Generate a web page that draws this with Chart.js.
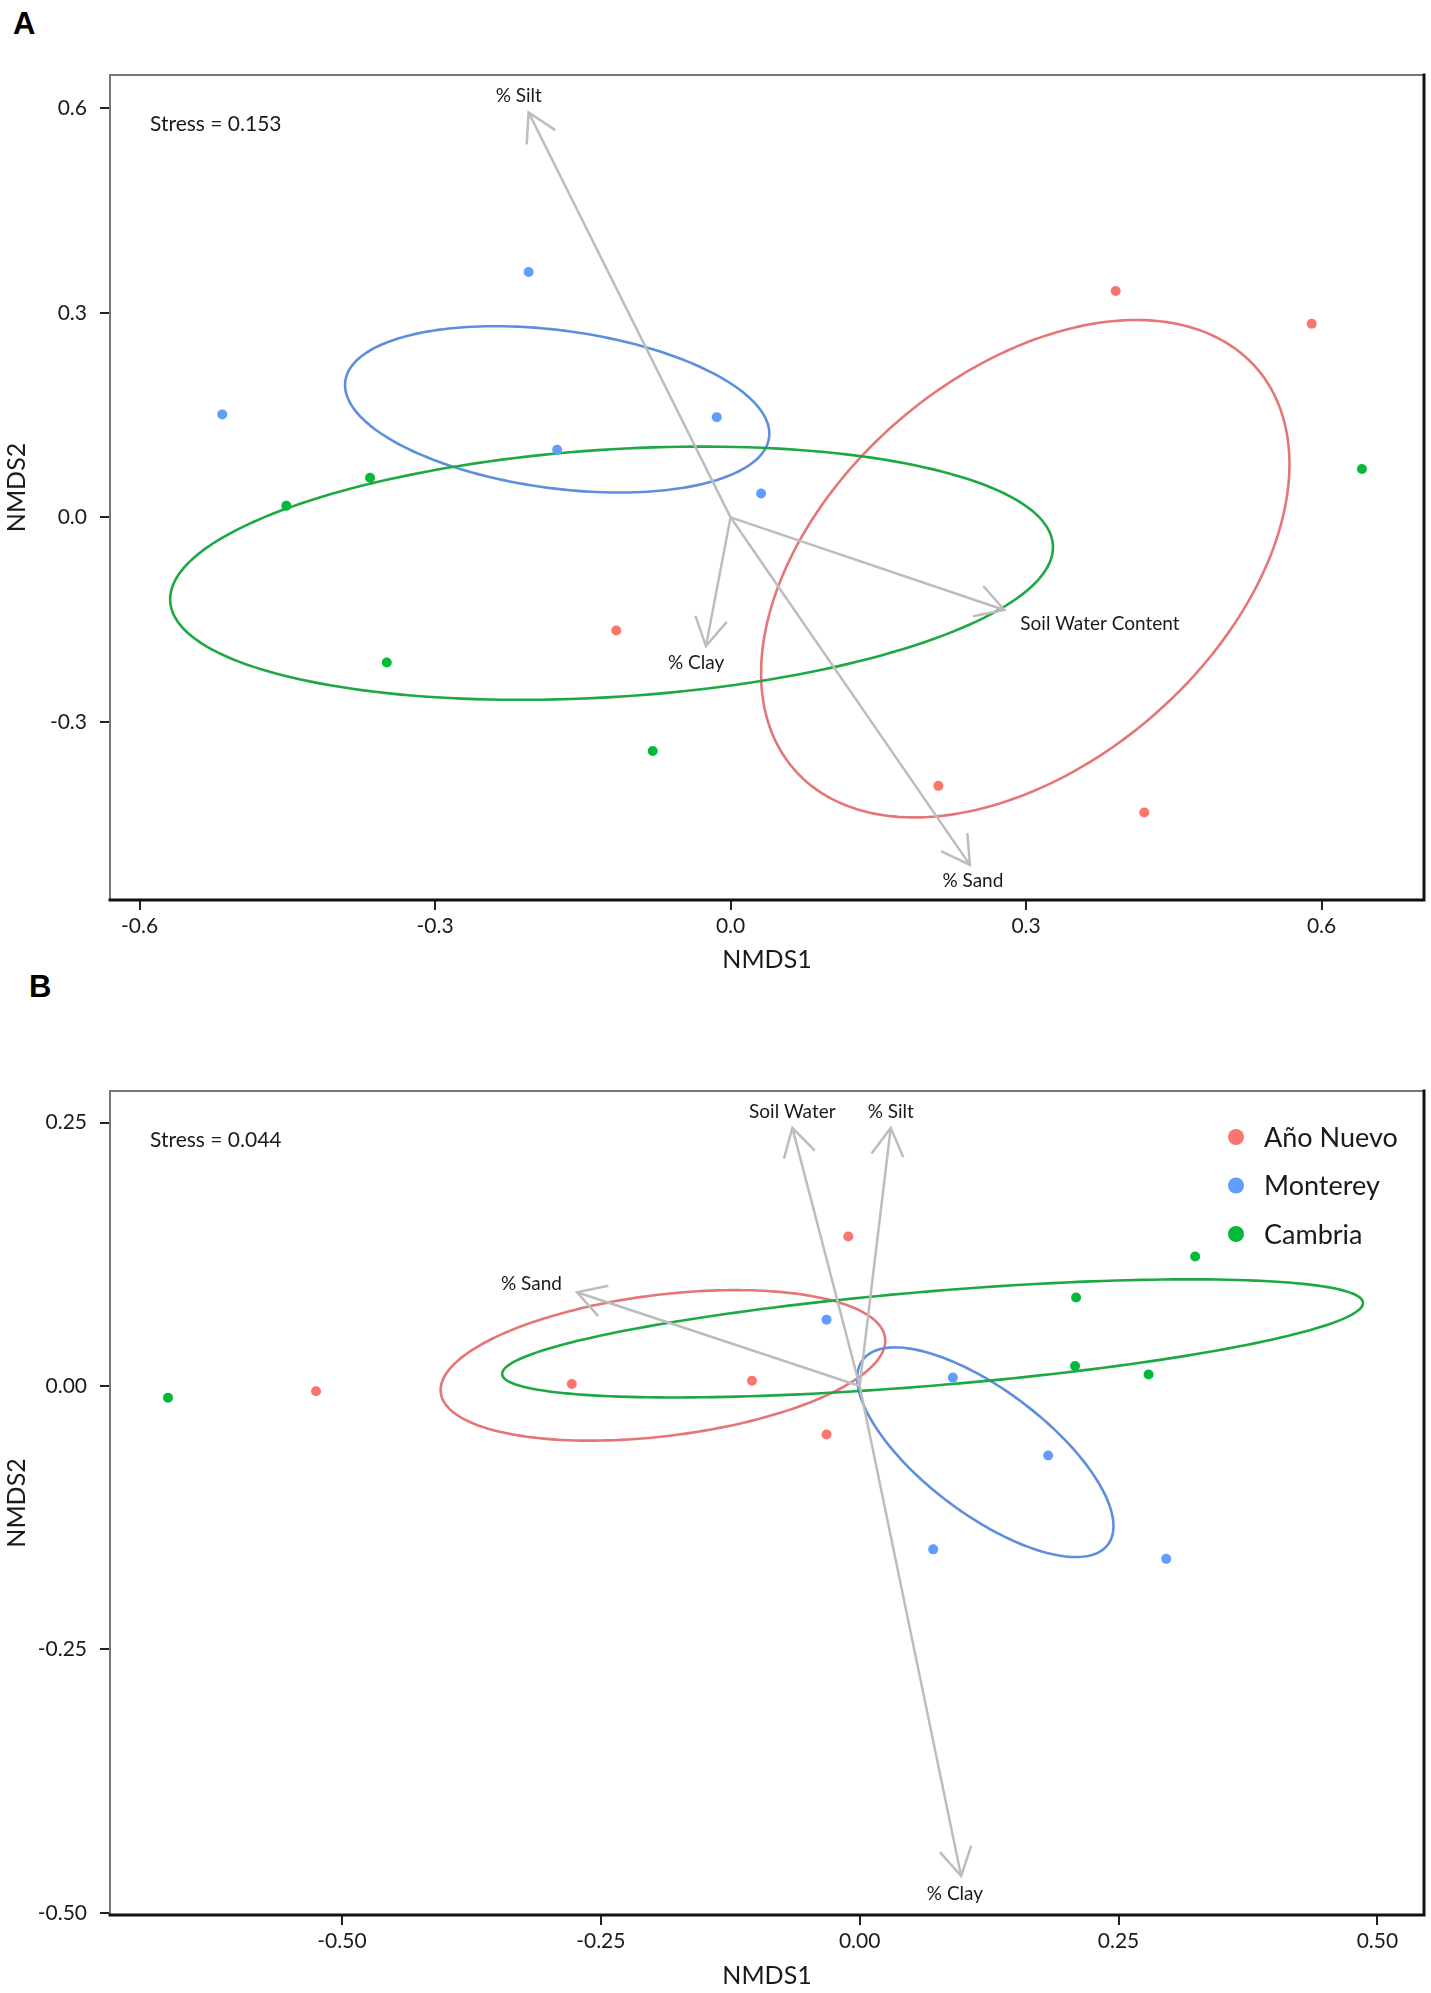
<!DOCTYPE html>
<html>
<head>
<meta charset="utf-8">
<title>NMDS ordination</title>
<script src="https://cdn.jsdelivr.net/npm/chart.js@4.4.1/dist/chart.umd.min.js"></script>
<style>
    body { margin: 0; background: #fff; }
    #page { position: relative; width: 1431px; height: 1993px; }
    .panel { position: absolute; left: 0; width: 1431px; }
    #panelA { top: 0; height: 985px; }
    #panelB { top: 985px; height: 1008px; }
    .tag { position: absolute; font: bold 31px "Liberation Sans", Arial, sans-serif; color: #000; }
</style>
</head>
<body>
<div id="page">
    <div class="tag" style="left:13px;top:6px;">A</div>
    <div class="tag" style="left:29px;top:969px;">B</div>
    <div class="panel" id="panelA"><canvas id="grafico-a"></canvas></div>
    <div class="panel" id="panelB"><canvas id="grafico-b"></canvas></div>
</div>
<script>
const groupNames = ['Año Nuevo', 'Monterey', 'Cambria'];
const groupColors = ['#F8766D', '#619CFF', '#00BA38'];
const ellipseColors = ['#E57676', '#5D8FDD', '#1DA844'];

// panel A - site scores
const aAnoNuevoX = [0.391, 0.590, -0.116, 0.211, 0.420];
const aAnoNuevoY = [0.332, 0.284, -0.166, -0.394, -0.433];
const aMontereyX = [-0.205, -0.516, -0.014, -0.176, 0.031];
const aMontereyY = [0.360, 0.151, 0.147, 0.099, 0.035];
const aCambriaX = [-0.366, -0.451, -0.349, -0.079, 0.641];
const aCambriaY = [0.058, 0.017, -0.213, -0.343, 0.071];

// panel A - environmental vectors
const aVectorNames = ['% Silt', '% Clay', 'Soil Water Content', '% Sand'];
const aVectorX = [-0.205, -0.025, 0.278, 0.243];
const aVectorY = [0.594, -0.189, -0.136, -0.510];
const aLabelX = [-0.215, -0.035, 0.375, 0.246];
const aLabelY = [0.618, -0.213, -0.157, -0.534];

const aTicksX = [-0.6, -0.3, 0, 0.3, 0.6];
const aTicksY = [-0.3, 0, 0.3, 0.6];
const aStress = 'Stress = 0.153';

// panel B - site scores
const bAnoNuevoX = [-0.525, -0.278, -0.104, -0.011, -0.032];
const bAnoNuevoY = [-0.005, 0.002, 0.005, 0.142, -0.046];
const bMontereyX = [-0.032, 0.090, 0.182, 0.071, 0.296];
const bMontereyY = [0.063, 0.008, -0.066, -0.155, -0.164];
const bCambriaX = [-0.668, 0.209, 0.324, 0.208, 0.279];
const bCambriaY = [-0.011, 0.084, 0.123, 0.019, 0.011];

// panel B - environmental vectors
const bVectorNames = ['Soil Water', '% Silt', '% Sand', '% Clay'];
const bVectorX = [-0.065, 0.030, -0.273, 0.098];
const bVectorY = [0.245, 0.245, 0.089, -0.465];
const bLabelX = [-0.065, 0.030, -0.317, 0.092];
const bLabelY = [0.260, 0.260, 0.097, -0.482];

const bTicksX = [-0.5, -0.25, 0, 0.25, 0.5];
const bTicksY = [-0.5, -0.25, 0, 0.25];
const bStress = 'Stress = 0.044';

const fonte = 'Lato, "Open Sans", sans-serif';

// 1-SD ellipse of a group, from its sample covariance
function desenharElipse(chart, xs, ys, cor) {
    const n = xs.length;
    const mx = xs.reduce((s, v) => s + v, 0) / n;
    const my = ys.reduce((s, v) => s + v, 0) / n;
    let sxx = 0, syy = 0, sxy = 0;
    for (let i = 0; i < n; i++) {
        sxx += (xs[i] - mx) ** 2;
        syy += (ys[i] - my) ** 2;
        sxy += (xs[i] - mx) * (ys[i] - my);
    }
    sxx /= n - 1; syy /= n - 1; sxy /= n - 1;
    const a = Math.sqrt(sxx);
    const c = sxy / a;
    const d = Math.sqrt(Math.max(syy - c * c, 0));
    const sx = chart.scales.x, sy = chart.scales.y;
    const ctx = chart.ctx;
    ctx.save();
    ctx.strokeStyle = cor;
    ctx.lineWidth = 2.6;
    ctx.beginPath();
    for (let k = 0; k <= 200; k++) {
        const t = k / 200 * Math.PI * 2;
        const px = sx.getPixelForValue(mx + a * Math.cos(t));
        const py = sy.getPixelForValue(my + c * Math.cos(t) + d * Math.sin(t));
        if (k === 0) ctx.moveTo(px, py); else ctx.lineTo(px, py);
    }
    ctx.closePath();
    ctx.stroke();
    ctx.restore();
}

function desenharSeta(ctx, x0, y0, x1, y1) {
    const ang = Math.atan2(y1 - y0, x1 - x0);
    const len = 32, abertura = Math.PI / 6;
    ctx.beginPath();
    ctx.moveTo(x0, y0);
    ctx.lineTo(x1, y1);
    ctx.moveTo(x1 - len * Math.cos(ang - abertura), y1 - len * Math.sin(ang - abertura));
    ctx.lineTo(x1, y1);
    ctx.lineTo(x1 - len * Math.cos(ang + abertura), y1 - len * Math.sin(ang + abertura));
    ctx.stroke();
}

function pluginOrdenacao(p) {
    return {
        id: 'ordenacao',
        beforeDatasetsDraw(chart) {
            const ctx = chart.ctx;
            const sx = chart.scales.x, sy = chart.scales.y;
            for (let i = 0; i < groupNames.length; i++) {
                desenharElipse(chart, p.xs[i], p.ys[i], ellipseColors[i]);
            }
            ctx.save();
            ctx.strokeStyle = '#BDBDBD';
            ctx.lineWidth = 2.5;
            const ox = sx.getPixelForValue(0), oy = sy.getPixelForValue(0);
            p.vx.forEach((vx, i) => {
                desenharSeta(ctx, ox, oy, sx.getPixelForValue(vx), sy.getPixelForValue(p.vy[i]));
            });
            ctx.fillStyle = '#1a1a1a';
            ctx.font = '19px ' + fonte;
            ctx.textAlign = 'center';
            ctx.textBaseline = 'middle';
            p.names.forEach((nome, i) => {
                ctx.fillText(nome, sx.getPixelForValue(p.lx[i]), sy.getPixelForValue(p.ly[i]));
            });
            ctx.restore();
        },
        afterDraw(chart) {
            const ctx = chart.ctx;
            const area = chart.chartArea;
            ctx.save();
            // frame
            ctx.lineCap = 'square';
            ctx.strokeStyle = '#777';
            ctx.lineWidth = 2;
            ctx.beginPath();
            ctx.moveTo(area.left, area.bottom);
            ctx.lineTo(area.left, area.top);
            ctx.lineTo(area.right, area.top);
            ctx.stroke();
            ctx.strokeStyle = '#111';
            ctx.lineWidth = 3;
            ctx.beginPath();
            ctx.moveTo(area.right, area.top);
            ctx.lineTo(area.right, area.bottom);
            ctx.lineTo(area.left, area.bottom);
            ctx.stroke();
            // stress
            ctx.fillStyle = '#1a1a1a';
            ctx.font = '21px ' + fonte;
            ctx.textAlign = 'left';
            ctx.textBaseline = 'middle';
            ctx.fillText(p.stress, area.left + 40, area.top + 49);
            // legend
            if (p.legend) {
                ctx.font = '27px ' + fonte;
                groupNames.forEach((nome, i) => {
                    const y = area.top + 46 + i * 48.5;
                    ctx.fillStyle = groupColors[i];
                    ctx.beginPath();
                    ctx.arc(area.right - 188, y, 8, 0, Math.PI * 2);
                    ctx.fill();
                    ctx.fillStyle = '#1a1a1a';
                    ctx.fillText(nome, area.right - 160, y + 1);
                });
            }
            ctx.restore();
        }
    };
}

function criarPainel(canvasId, p) {
    const eixo = (ticksLista, casas) => ({
        afterBuildTicks: s => { s.ticks = ticksLista.map(v => ({ value: v })); },
        grid: { drawOnChartArea: false, drawTicks: true, tickLength: 10, tickColor: '#222', lineWidth: 2 },
        border: { display: false },
        ticks: {
            color: '#1a1a1a',
            font: { family: fonte, size: 21 },
            autoSkip: false,
            maxRotation: 0,
            callback: v => Number(v).toFixed(casas)
        }
    });

    const x = eixo(p.ticksX, p.casasX);
    x.min = p.xMin; x.max = p.xMax;
    x.afterFit = s => { s.height = p.alturaX; };
    x.ticks.padding = 4;
    x.title = { display: true, text: 'NMDS1', color: '#1a1a1a', font: { family: fonte, size: 25 }, padding: { top: 0, bottom: p.padTituloX } };

    const y = eixo(p.ticksY, p.casasY);
    y.min = p.yMin; y.max = p.yMax;
    y.afterFit = s => { s.width = 110; };
    y.ticks.padding = 13;
    y.title = { display: true, text: 'NMDS2', color: '#1a1a1a', font: { family: fonte, size: 25 }, padding: { top: 2, bottom: 0 } };

    return new Chart(document.getElementById(canvasId), {
        type: 'scatter',
        data: {
            datasets: groupNames.map((nome, i) => ({
                label: nome,
                data: p.xs[i].map((v, j) => ({ x: v, y: p.ys[i][j] })),
                backgroundColor: groupColors[i],
                borderWidth: 0,
                pointRadius: 5,
                pointHoverRadius: 5
            }))
        },
        options: {
            responsive: true,
            maintainAspectRatio: false,
            animation: false,
            layout: { padding: { top: p.padTopo, right: 7, left: 0, bottom: 0 } },
            scales: { x: x, y: y },
            plugins: {
                legend: { display: false },
                tooltip: { enabled: false }
            }
        },
        plugins: [pluginOrdenacao(p)]
    });
}

criarPainel('grafico-a', {
    xs: [aAnoNuevoX, aMontereyX, aCambriaX],
    ys: [aAnoNuevoY, aMontereyY, aCambriaY],
    names: aVectorNames, vx: aVectorX, vy: aVectorY, lx: aLabelX, ly: aLabelY,
    ticksX: aTicksX, ticksY: aTicksY, casasX: 1, casasY: 1,
    xMin: -0.630, xMax: 0.704, yMin: -0.5615, yMax: 0.649,
    padTopo: 75, alturaX: 85, padTituloX: 10,
    stress: aStress, legend: false
});

criarPainel('grafico-b', {
    xs: [bAnoNuevoX, bMontereyX, bCambriaX],
    ys: [bAnoNuevoY, bMontereyY, bCambriaY],
    names: bVectorNames, vx: bVectorX, vy: bVectorY, lx: bLabelX, ly: bLabelY,
    ticksX: bTicksX, ticksY: bTicksY, casasX: 2, casasY: 2,
    xMin: -0.724, xMax: 0.545, yMin: -0.502, yMax: 0.280,
    padTopo: 106, alturaX: 78, padTituloX: 2,
    stress: bStress, legend: true
});
</script>
</body>
</html>
